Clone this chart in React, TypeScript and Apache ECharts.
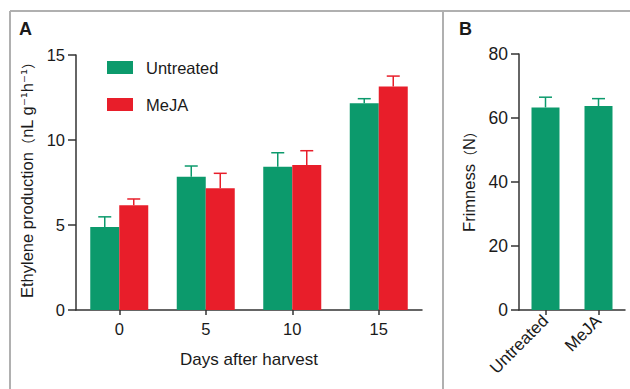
import React, { useEffect, useRef } from "react";
import * as echarts from "echarts";

const days = ["0", "5", "10", "15"];
const untreated = [4.88, 7.84, 8.43, 12.16];
const untreatedErr = [0.6, 0.63, 0.82, 0.27];
const meja = [6.16, 7.16, 8.53, 13.14];
const mejaErr = [0.37, 0.88, 0.84, 0.62];

const treatments = ["Untreated", "MeJA"];
const firmness = [63.3, 63.75];
const firmnessErr = [3.2, 2.3];

const yTicksA = [0, 5, 10, 15];
const yTicksB = [0, 20, 40, 60, 80];

const GREEN = "#0c9a6c";
const RED = "#e81e2a";
const AXIS = "#333333";
const TEXT = "#1a1a1a";
const FONT = "'Liberation Sans', Arial, Helvetica, sans-serif";
const CJK = "'Noto Sans CJK SC', sans-serif";

function errSeries(name: string, vals: number[], errs: number[], color: string, offsetFrac: number, xi: number, yi: number) {
  return {
    type: "custom",
    name,
    xAxisIndex: xi,
    yAxisIndex: yi,
    z: 1,
    data: vals.map((v, i) => [i, v, v + errs[i]]),
    renderItem: (params: any, api: any) => {
      const band = api.size([1, 0])[0];
      const base = api.coord([api.value(0), api.value(1)]);
      const top = api.coord([api.value(0), api.value(2)]);
      const x = base[0] + band * offsetFrac;
      const cap = 6.5;
      return {
        type: "group",
        children: [
          { type: "line", shape: { x1: x, y1: base[1], x2: x, y2: top[1] }, style: { stroke: color, lineWidth: 1.5 } },
          { type: "line", shape: { x1: x - cap, y1: top[1], x2: x + cap, y2: top[1] }, style: { stroke: color, lineWidth: 1.5 } },
        ],
      };
    },
  };
}

export default function App() {
  const ref = useRef<HTMLDivElement>(null);
  useEffect(() => {
    const chart = echarts.init(ref.current!, null, { renderer: "svg" });
    const axisLine = { show: true, lineStyle: { color: AXIS, width: 1.5 } };
    const nameRich = {
      a: { fontSize: 16.5, fontFamily: FONT, color: TEXT },
      p: { fontSize: 14, fontFamily: CJK, color: TEXT },
      s: { fontSize: 15, fontFamily: "'DejaVu Sans', sans-serif", color: TEXT },
    };
    chart.setOption({
      animation: false,
      backgroundColor: "#ffffff",
      textStyle: { fontFamily: FONT },
      graphic: [
        { type: "line", shape: { x1: 10, y1: 11, x2: 630, y2: 11 }, style: { stroke: "#b0b0b0", lineWidth: 2 } },
        { type: "line", shape: { x1: 10, y1: 11, x2: 10, y2: 389 }, style: { stroke: "#b0b0b0", lineWidth: 2 } },
        { type: "line", shape: { x1: 443, y1: 11, x2: 443, y2: 389 }, style: { stroke: "#b0b0b0", lineWidth: 2 } },
        { type: "text", left: 19, top: 20, style: { text: "A", fontSize: 18, fontWeight: "bold", fill: TEXT, fontFamily: FONT } },
        { type: "text", left: 459, top: 20, style: { text: "B", fontSize: 18, fontWeight: "bold", fill: TEXT, fontFamily: FONT } },
      ],
      legend: {
        data: ["Untreated", "MeJA"],
        orient: "vertical",
        left: 107,
        top: 59,
        padding: 0,
        itemWidth: 26,
        itemHeight: 13,
        itemGap: 20,
        icon: "rect",
        textStyle: { color: TEXT, fontFamily: FONT, fontSize: 16.5, padding: [0, 0, 0, 8] },
      },
      grid: [
        { left: 76, top: 55, width: 346, height: 255, containLabel: false },
        { left: 519, top: 54, width: 106, height: 256, containLabel: false },
      ],
      xAxis: [
        {
          gridIndex: 0,
          type: "category",
          data: days,
          axisLine,
          splitLine: { show: false },
          axisTick: { show: true, alignWithLabel: true, length: 5, lineStyle: { color: AXIS, width: 1.5 } },
          axisLabel: { color: TEXT, fontFamily: FONT, fontSize: 16.5, margin: 10 },
          name: "Days after harvest",
          nameLocation: "middle",
          nameGap: 41,
          nameTextStyle: { color: TEXT, fontFamily: FONT, fontSize: 17 },
        },
        {
          gridIndex: 1,
          type: "category",
          data: treatments,
          axisLine,
          splitLine: { show: false },
          axisTick: { show: true, alignWithLabel: true, length: 5, lineStyle: { color: AXIS, width: 1.5 } },
          axisLabel: { color: TEXT, fontFamily: FONT, fontSize: 17, rotate: 45, margin: 8 },
        },
      ],
      yAxis: [
        {
          gridIndex: 0,
          type: "value",
          min: yTicksA[0],
          max: yTicksA[yTicksA.length - 1],
          interval: yTicksA[1] - yTicksA[0],
          axisLine,
          splitLine: { show: false },
          axisTick: { show: true, length: 8, lineStyle: { color: AXIS, width: 1.5 } },
          axisLabel: { color: TEXT, fontFamily: FONT, fontSize: 16.5, margin: 11 },
          name: "{a|Ethylene production}{p|（}{a|nL g}{s|⁻¹}{a|h}{s|⁻¹}{p|）}",
          nameLocation: "middle",
          nameGap: 38,
          nameTextStyle: { color: TEXT, fontFamily: FONT, fontSize: 16.5, rich: nameRich, padding: [0, 0, 0, 12] },
        },
        {
          gridIndex: 1,
          type: "value",
          min: yTicksB[0],
          max: yTicksB[yTicksB.length - 1],
          interval: yTicksB[1] - yTicksB[0],
          axisLine,
          splitLine: { show: false },
          axisTick: { show: true, length: 8, lineStyle: { color: AXIS, width: 1.5 } },
          axisLabel: { color: TEXT, fontFamily: FONT, fontSize: 17.5, margin: 11 },
          name: "{a|Frimness}{p|（}{a|N}{p|）}",
          nameLocation: "middle",
          nameGap: 42,
          nameTextStyle: { color: TEXT, fontFamily: FONT, fontSize: 16.5, rich: nameRich, padding: [0, 0, 0, 8] },
        },
      ],
      series: [
        { type: "bar", name: "Untreated", xAxisIndex: 0, yAxisIndex: 0, data: untreated, barWidth: 29, barGap: "0%", itemStyle: { color: GREEN }, z: 2 },
        { type: "bar", name: "MeJA", xAxisIndex: 0, yAxisIndex: 0, data: meja, barWidth: 29, barGap: "0%", itemStyle: { color: RED }, z: 2 },
        errSeries("errU", untreated, untreatedErr, GREEN, -14.5 / 86.5, 0, 0),
        errSeries("errM", meja, mejaErr, RED, 14.5 / 86.5, 0, 0),
        { type: "bar", name: "Firmness", xAxisIndex: 1, yAxisIndex: 1, data: firmness, barWidth: 28, itemStyle: { color: GREEN }, z: 2 },
        errSeries("errF", firmness, firmnessErr, GREEN, 0, 1, 1),
      ],
    });
    return () => chart.dispose();
  }, []);
  return <div ref={ref} style={{ width: 630, height: 389, position: "absolute", left: 0, top: 0 }} />;
}
